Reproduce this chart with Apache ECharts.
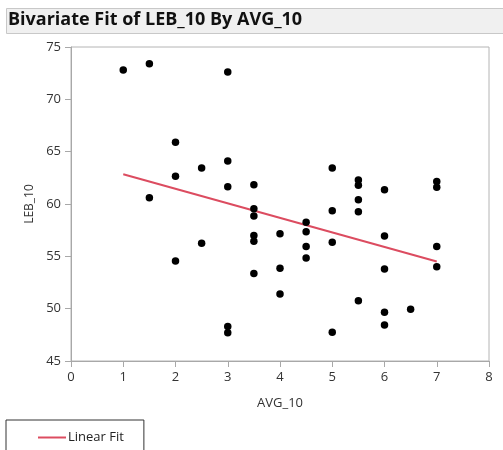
<!DOCTYPE html>
<html>
<head>
<meta charset="utf-8">
<script src="https://cdn.jsdelivr.net/npm/echarts@6/dist/echarts.min.js"></script>
<style>
html,body{margin:0;padding:0;background:#fff;}
#chart{width:503px;height:450px;}
</style>
</head>
<body>
<div id="chart"></div>
<script>
// AVG_10 values (x) and LEB_10 values (y)
const avgValues = [
  1,
  1.5, 1.5,
  2, 2, 2,
  2.5, 2.5,
  3, 3, 3, 3, 3,
  3.5, 3.5, 3.5, 3.5, 3.5, 3.5,
  4, 4, 4,
  4.5, 4.5, 4.5, 4.5,
  5, 5, 5, 5,
  5.5, 5.5, 5.5, 5.5, 5.5,
  6, 6, 6, 6, 6,
  6.5,
  7, 7, 7, 7
];
const lebValues = [
  72.8,
  73.4, 60.6,
  65.9, 62.65, 54.55,
  63.45, 56.25,
  72.6, 64.1, 61.65, 48.3, 47.7,
  61.85, 59.55, 58.85, 57.0, 56.45, 53.35,
  57.15, 53.85, 51.4,
  58.25, 57.35, 55.95, 54.85,
  63.45, 59.35, 56.35, 47.75,
  62.3, 61.8, 60.4, 59.25, 50.75,
  61.35, 56.95, 53.8, 49.65, 48.45,
  49.95,
  62.15, 61.6, 55.95, 54.0
];
// Linear fit end points
const fitX = [1, 7];
const fitY = [62.85, 54.5];
const xTicks = [0, 1, 2, 3, 4, 5, 6, 7, 8];
const yTicks = [45, 50, 55, 60, 65, 70, 75];

const titleText = 'Bivariate Fit of LEB_10 By AVG_10';
const fontFam = '"Open Sans", "Noto Sans", sans-serif';
const fitColor = '#dc4c60';

const chart = echarts.init(document.getElementById('chart'), null, {renderer: 'canvas'});
const points = avgValues.map((x, i) => [x, lebValues[i]]);
const fitLine = fitX.map((x, i) => [x, fitY[i]]);

chart.setOption({
  backgroundColor: '#ffffff',
  animation: false,
  graphic: [{
    type: 'rect',
    shape: {x: 6.5, y: 8.5, width: 500, height: 25},
    style: {fill: '#f0f0f0', stroke: '#c8c8c8', lineWidth: 1},
    z: 0
  }],
  title: {
    text: titleText,
    left: 8,
    top: 11,
    padding: 0,
    textStyle: {fontFamily: fontFam, fontSize: 18, fontWeight: 'bold', color: '#111'}
  },
  legend: {
    data: [{name: 'Linear Fit', icon: 'rect'}],
    left: 6,
    top: 420,
    orient: 'vertical',
    borderColor: '#333',
    borderWidth: 1,
    padding: [11, 20, 20, 32],
    itemWidth: 28,
    itemHeight: 2,
    textStyle: {fontFamily: fontFam, fontSize: 13, color: '#222', padding: [0, 0, 0, -3]}
  },
  grid: {
    left: 71,
    right: 14,
    top: 47,
    bottom: 89,
    show: true,
    borderColor: '#b4b4b4',
    borderWidth: 1
  },
  xAxis: {
    type: 'value',
    min: xTicks[0],
    max: xTicks[xTicks.length - 1],
    interval: 1,
    name: 'AVG_10',
    nameLocation: 'middle',
    nameGap: 36,
    nameTextStyle: {fontFamily: fontFam, fontSize: 13, color: '#333'},
    axisLine: {show: true, lineStyle: {color: '#a8a8a8', width: 1}},
    axisTick: {show: true, length: 6, lineStyle: {color: '#a8a8a8'}},
    axisLabel: {margin: 10, fontFamily: fontFam, fontSize: 13, color: '#333'},
    splitLine: {show: false}
  },
  yAxis: {
    type: 'value',
    min: yTicks[0],
    max: yTicks[yTicks.length - 1],
    interval: 5,
    name: 'LEB_10',
    nameLocation: 'middle',
    nameGap: 34,
    nameTextStyle: {fontFamily: fontFam, fontSize: 12, color: '#333'},
    axisLine: {show: true, lineStyle: {color: '#a8a8a8', width: 1}},
    axisTick: {show: true, length: 6, lineStyle: {color: '#a8a8a8'}},
    axisLabel: {margin: 10, fontFamily: fontFam, fontSize: 13, color: '#333'},
    splitLine: {show: false}
  },
  series: [
    {
      name: 'Data',
      type: 'scatter',
      data: points,
      symbol: 'circle',
      symbolSize: 7.5,
      itemStyle: {color: '#000', opacity: 1},
      z: 3
    },
    {
      name: 'Linear Fit',
      type: 'line',
      data: fitLine,
      symbol: 'none',
      lineStyle: {color: fitColor, width: 2},
      itemStyle: {color: fitColor},
      z: 2
    }
  ]
});
</script>
</body>
</html>
